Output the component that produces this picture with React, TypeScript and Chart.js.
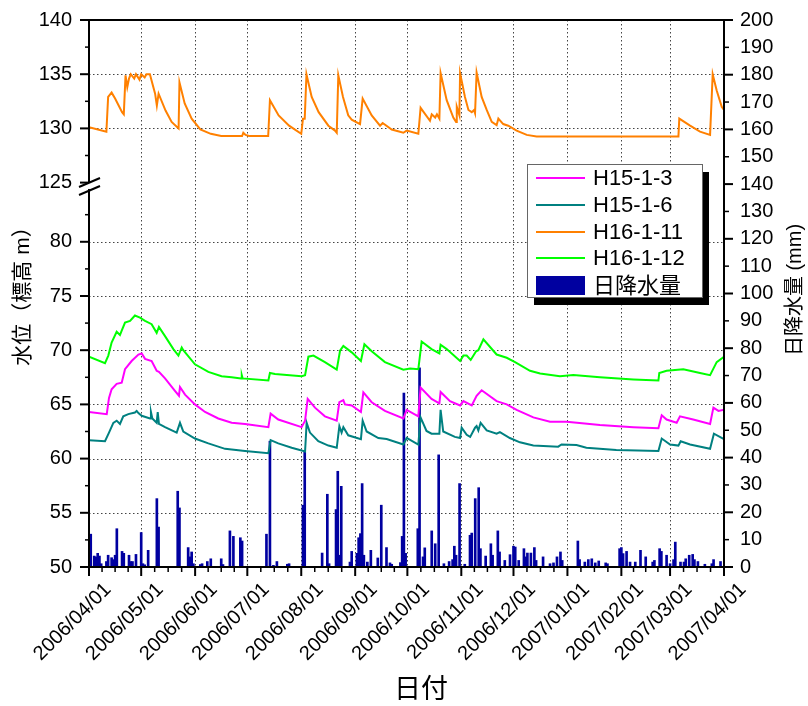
import { useEffect, useRef } from 'react';
import { Chart, registerables } from 'chart.js';

Chart.register(...registerables);

// ---------- data ----------
const MONTH_DAYS = [0, 30, 61, 91, 122, 153, 183, 214, 244, 275, 306, 334, 365];
const MONTH_LABELS = [
  '2006/04/01', '2006/05/01', '2006/06/01', '2006/07/01', '2006/08/01', '2006/09/01',
  '2006/10/01', '2006/11/01', '2006/12/01', '2007/01/01', '2007/02/01', '2007/03/01', '2007/04/01',
];
const Y_LOW_TICKS = [50, 55, 60, 65, 70, 75, 80];
const Y_HIGH_TICKS = [125, 130, 135, 140];
const RAIN_TICKS = [0, 10, 20, 30, 40, 50, 60, 70, 80, 90, 100, 110, 120, 130, 140, 150, 160, 170, 180, 190, 200];

const SERIES_NAMES = ['H15-1-3', 'H15-1-6', 'H16-1-11', 'H16-1-12', '日降水量'];

// [day since 2006/04/01, level (m)]
const H15_1_3: [number, number][] = [
  [0, 64.3], [10.2, 64.1], [11.5, 65.6], [13, 66.4], [15.9, 66.9], [18.8, 67.0], [20.7, 68.25], [24.5, 69.0],
  [28.4, 69.6], [30.3, 69.7], [32.2, 69.2], [36, 69.0], [38.9, 68.1], [40.2, 68.0], [43.7, 67.4], [49.4, 66.25],
  [51.7, 65.8], [52.3, 66.6], [55.2, 65.9], [60.9, 65.0], [66.7, 64.3], [74.3, 63.7], [82, 63.3], [89.7, 63.2],
  [103.1, 62.9], [104.4, 64.15], [108.8, 63.6], [122.2, 62.9], [124.2, 63.5], [125.7, 65.5], [129.9, 64.7],
  [135.6, 63.9], [142.4, 63.5], [143.9, 65.2], [146.2, 65.4], [147.1, 65.0], [151, 64.9], [156.3, 64.3],
  [157.7, 66.1], [162.5, 65.2], [170.1, 64.4], [180.7, 63.7], [182.6, 64.5], [189.3, 63.9], [190.6, 66.55],
  [196.9, 65.5], [201.4, 65.1], [202.1, 66.15], [207.5, 65.3], [213.3, 64.9], [215.2, 65.3], [220, 64.9],
  [222.8, 65.8], [225.7, 66.3], [234.3, 65.3], [240.1, 65.0], [245.8, 64.5], [255.4, 63.8], [265, 63.4],
  [274.6, 63.4], [293.7, 63.1], [312.9, 62.9], [327.3, 62.8], [329.2, 64.0], [332, 63.6], [337.8, 63.3],
  [339.7, 63.9], [347.3, 63.6], [357, 63.2], [358.9, 64.7], [361.8, 64.4], [365, 64.5],
];
const H15_1_6: [number, number][] = [
  [0, 61.7], [9.2, 61.6], [11.5, 62.4], [14, 63.3], [15.9, 63.5], [17.8, 63.2], [19.7, 63.9], [22.6, 64.1],
  [26.4, 64.25], [27.4, 64.4], [28.4, 64.2], [30.3, 63.95], [35.1, 63.7], [35.6, 64.3], [36.4, 63.7], [38.9, 63.3],
  [39.5, 64.3], [40.2, 63.2], [43.7, 62.9], [50.4, 62.4], [52.3, 63.3], [54.2, 62.5], [60.9, 61.85], [68.6, 61.4],
  [78.2, 60.9], [89.7, 60.7], [103.1, 60.5], [104.4, 61.7], [108.8, 61.4], [116.5, 61.0], [124.2, 60.65],
  [125.1, 63.3], [127, 62.4], [131.8, 61.6], [137.6, 61.2], [142.4, 61.0], [143.9, 63.0], [145.2, 62.4],
  [146.2, 62.9], [149, 62.15], [156.3, 61.8], [157.3, 63.5], [159.6, 62.5], [166.3, 61.9], [171.1, 61.8],
  [180.7, 61.3], [182.6, 61.9], [189.3, 61.3], [190.6, 63.8], [194, 62.55], [196.9, 62.3], [201.4, 62.3],
  [202.1, 64.5], [203.6, 62.5], [210.3, 62.0], [213.3, 61.9], [214.2, 62.85], [217.1, 62.2], [219.1, 62.0],
  [221.9, 62.85], [222.8, 63.0], [223.8, 62.6], [225.1, 63.3], [228.6, 62.6], [234.3, 62.3], [236.2, 62.45],
  [241.9, 61.9], [247.7, 61.5], [255.4, 61.2], [269.7, 61.1], [271.6, 61.3], [280.2, 61.26], [285.9, 61.0],
  [303.1, 60.8], [327.3, 60.7], [329.2, 61.85], [334, 61.3], [338.8, 61.2], [340.1, 61.6], [345.5, 61.3],
  [357, 60.9], [359.2, 62.3], [365, 61.8],
];
const H16_1_11: [number, number][] = [
  [0, 130.1], [10, 129.7], [11, 132.9], [13, 133.3], [15, 132.75], [19, 131.5], [20, 131.3], [21, 134.9],
  [22, 133.8], [23, 134.6], [24, 135], [26, 134.6], [27, 135], [29, 134.5], [30, 135], [32, 134.7], [33, 135],
  [35, 135], [38, 133.2], [39, 132.1], [40, 133.2], [44, 131.65], [47.5, 130.6], [51.5, 130.0], [52, 134.25],
  [55, 132.3], [59, 130.9], [64, 129.9], [70, 129.5], [76, 129.3], [88, 129.3], [88.7, 129.6], [90, 129.4],
  [92, 129.3], [103, 129.3], [104, 132.6], [109, 131.2], [115, 130.25], [122, 129.5], [123, 130.9], [124, 130.9],
  [125, 135], [128, 132.9], [132, 131.5], [137.6, 130.25], [141.4, 129.8], [142.4, 129.6], [143.3, 134.9],
  [146, 132.9], [149, 131.2], [151, 130.8], [155.8, 130.4], [157.3, 132.75], [162.5, 131.2], [167.3, 130.25],
  [168.8, 130.5], [174, 129.9], [180.7, 129.6], [182.6, 129.8], [189.3, 129.5], [190.6, 131.9], [196, 130.7],
  [197, 131.3], [199, 131.0], [200, 131.3], [201.4, 130.9], [202.1, 135.1], [205.6, 132.6], [209.4, 131.0],
  [211, 130.6], [211.4, 132.0], [212.9, 131.2], [213.3, 135.1], [216.1, 132.9], [218.1, 131.7], [220, 131.5],
  [221.3, 131.7], [221.9, 131.4], [222.8, 135.15], [225.7, 132.9], [228.6, 131.7], [231.5, 130.6], [234.3, 130.3],
  [235.3, 130.9], [238.1, 130.4], [241, 130.25], [245.8, 129.8], [251.6, 129.4], [257.3, 129.25], [338.8, 129.25],
  [339.3, 130.9], [345.5, 130.25], [351.2, 129.7], [357, 129.4], [358.5, 135], [360.8, 133.5], [363.7, 132.0],
  [365, 131.7],
];
const H16_1_12: [number, number][] = [
  [0, 69.4], [9.2, 68.8], [11.1, 69.5], [13, 70.7], [15.9, 71.7], [17.8, 71.4], [18.8, 71.8], [20.7, 72.55],
  [23.6, 72.7], [26.4, 73.2], [29.3, 73.0], [32.2, 72.7], [36, 72.4], [38.9, 71.6], [40.2, 72.15], [43.7, 71.3],
  [48.5, 70.1], [51.4, 69.5], [53.3, 70.25], [54.2, 70.0], [60.9, 68.7], [68.6, 68.0], [76.2, 67.6], [82, 67.5],
  [87.4, 67.4], [87.8, 67.7], [88.3, 67.4], [103.1, 67.2], [104, 67.9], [106.9, 67.8], [122.2, 67.6], [124.2, 67.7],
  [126.1, 69.4], [129, 69.5], [135.6, 68.9], [142.4, 68.2], [144.3, 69.95], [146.2, 70.4], [151, 69.8],
  [156.3, 69.0], [158.3, 70.55], [162.5, 69.9], [170.1, 68.9], [180.7, 68.2], [184.6, 68.3], [189.3, 68.25],
  [191.2, 70.8], [196.9, 70.1], [201.4, 69.7], [202.1, 70.5], [205.6, 70.1], [213.3, 69.0], [215.2, 69.5],
  [217.1, 69.5], [219.4, 69.1], [222.5, 69.9], [223.8, 70.0], [226.7, 71.0], [234.3, 69.6], [240.1, 69.3],
  [244.9, 68.9], [253.5, 68.1], [259.3, 67.85], [270.7, 67.6], [278.4, 67.7], [293.7, 67.5], [312.9, 67.3],
  [327.3, 67.2], [327.8, 67.9], [332, 68.1], [341.6, 68.25], [351.2, 67.9], [357, 67.7], [360.8, 68.9], [365, 69.4],
];
// [day since 2006/04/01, daily rainfall (mm)]
const RAIN: [number, number][] = [
  [1, 12], [3, 4], [4, 3.7], [5, 5], [6, 4], [7, 1.2], [10, 2], [11, 4.3], [13, 3.4], [14, 2.7], [15, 4.3],
  [16, 14], [19, 5.7], [20, 5], [23, 4.3], [24, 2], [25, 2], [27, 4.6], [30, 12.6], [31, 1.2], [32, 0.8], [34, 6.1],
  [39, 25], [40, 14.6], [51, 27.7], [52, 21.6], [57, 7.1], [58, 3.7], [59, 5.5], [60, 1.2], [64, 0.9], [65, 1.2],
  [68, 2], [70, 3], [76, 3], [77, 0.9], [81, 13.2], [83, 11.2], [87, 10.7], [88, 9.5], [102, 12], [104, 46],
  [106, 0.6], [108, 2], [114, 1], [115, 1.2], [123, 22.6], [124, 42], [134, 5.1], [137, 26.6], [138, 1.2],
  [142, 21], [143, 35], [144, 4.3], [145, 29.5], [150, 1.8], [151, 5.7], [154, 5], [155, 10.7], [156, 12.2],
  [157, 30.5], [158, 4.3], [160, 1.8], [162, 6.1], [166, 3.3], [168, 22.6], [171, 7.1], [173, 1.5], [174, 1],
  [179, 1.6], [180, 11.2], [181, 63.6], [182, 5], [189, 14], [190, 72.8], [192, 3.7], [193, 7], [197, 13.2],
  [199, 8.5], [201, 41], [204, 1.2], [207, 2], [209, 2.7], [210, 7.6], [211, 4.3], [213, 30.5], [216, 1],
  [219, 11.6], [220, 12.4], [222, 25], [224, 29], [225, 6.7], [228, 4], [231, 8.5], [232, 4.3], [235, 13.2],
  [236, 5.5], [239, 2.4], [242, 4.5], [244, 7.6], [245, 7.3], [247, 2.4], [250, 6.7], [251, 3.7], [252, 5.1],
  [254, 5.1], [256, 7.1], [257, 2.4], [261, 3.7], [265, 1.2], [267, 1.5], [269, 3.7], [271, 5.5], [272, 2.4],
  [281, 9.5], [282, 2.7], [285, 1.8], [287, 2.7], [289, 3], [291, 1.5], [293, 2.2], [297, 1.5], [298, 1.2],
  [305, 6.7], [306, 7.1], [307, 4.9], [309, 5.7], [311, 1.8], [314, 1.8], [317, 6.1], [320, 3.7], [324, 1.8],
  [325, 2.4], [328, 6.7], [329, 5.7], [332, 4.3], [334, 1.2], [336, 2.7], [337, 9.1], [340, 1.8], [342, 1.8],
  [343, 3], [345, 4.3], [347, 4.6], [348, 2.7], [350, 2], [354, 1], [358, 1.2], [359, 2.7], [363, 2],
];

// ---------- style ----------
const COLORS = ['#FF00FF', '#008080', '#FF8000', '#00FF00', '#0000A0'];
const FONT = '"Liberation Sans", Arial, "Noto Sans CJK JP", sans-serif';

const toXY = (arr: [number, number][]) => arr.map(([x, y]) => ({ x, y }));

function minorTicks(major: number[], parts: number): number[] {
  const out: number[] = [];
  for (let i = 0; i < major.length - 1; i++) {
    for (let k = 1; k < parts; k++) out.push(major[i] + ((major[i + 1] - major[i]) * k) / parts);
  }
  return out;
}

const fitV = (w: number) => (s: any) => {
  s.width = w;
  s.paddingTop = 0;
  s.paddingBottom = 0;
};

const decorPlugin = {
  id: 'decor',
  beforeDatasetsDraw(chart: any) {
    const { ctx, chartArea: a, scales } = chart;
    ctx.save();
    ctx.strokeStyle = '#444';
    ctx.lineWidth = 1;
    ctx.setLineDash([1.5, 2.5]);
    const hline = (y: number) => {
      const yy = Math.round(y) + 0.5;
      ctx.beginPath(); ctx.moveTo(a.left, yy); ctx.lineTo(a.right, yy); ctx.stroke();
    };
    Y_LOW_TICKS.slice(1).forEach((v) => hline(scales.y.getPixelForValue(v)));
    Y_HIGH_TICKS.slice(1, -1).forEach((v) => hline(scales.yTop.getPixelForValue(v)));
    MONTH_DAYS.slice(1, -1).forEach((d) => {
      const x = Math.round(scales.x.getPixelForValue(d)) + 0.5;
      ctx.beginPath(); ctx.moveTo(x, a.top); ctx.lineTo(x, a.bottom); ctx.stroke();
    });
    ctx.restore();
  },
  afterDraw(chart: any) {
    const { ctx, chartArea: a, scales } = chart;
    const L = a.left, R = a.right, T = a.top, B = a.bottom;
    ctx.save();
    ctx.strokeStyle = '#000';
    ctx.lineWidth = 2;
    ctx.setLineDash([]);
    const line = (x1: number, y1: number, x2: number, y2: number) => {
      ctx.beginPath(); ctx.moveTo(x1, y1); ctx.lineTo(x2, y2); ctx.stroke();
    };
    // frame
    line(L, T, R, T);
    line(L - 1, B, R + 1, B);
    line(L, T - 1, L, B + 1);
    line(R, T - 1, R, B + 1);
    // left ticks
    const lowMinor = minorTicks(Y_LOW_TICKS, 2).concat([82.5]);
    const highMinor = minorTicks(Y_HIGH_TICKS, 2);
    ctx.lineWidth = 2;
    Y_LOW_TICKS.forEach((v) => { const y = scales.y.getPixelForValue(v); line(L - 9, y, L, y); });
    Y_HIGH_TICKS.forEach((v) => { const y = scales.yTop.getPixelForValue(v); line(L - 9, y, L, y); });
    ctx.lineWidth = 1.5;
    lowMinor.forEach((v) => { const y = scales.y.getPixelForValue(v); line(L - 4, y, L, y); });
    highMinor.forEach((v) => { const y = scales.yTop.getPixelForValue(v); line(L - 4, y, L, y); });
    // right ticks
    RAIN_TICKS.forEach((v, i) => {
      const y = scales.y2.getPixelForValue(v);
      ctx.lineWidth = i % 2 === 0 ? 2 : 1.5;
      line(R, y, R + (i % 2 === 0 ? 9 : 5), y);
    });
    // bottom ticks
    ctx.lineWidth = 2;
    MONTH_DAYS.forEach((d) => { const x = scales.x.getPixelForValue(d); line(x, B, x, B + 9); });
    ctx.lineWidth = 1.5;
    minorTicks(MONTH_DAYS, 4).forEach((d) => { const x = scales.x.getPixelForValue(d); line(x, B, x, B + 5); });
    // axis break
    const yb = scales.y.top;
    ctx.fillStyle = '#fff';
    ctx.fillRect(L - 2, yb - 3, 4, 6);
    ctx.lineWidth = 2;
    line(L - 10, yb + 1, L + 11, yb - 8);
    line(L - 10, yb + 9, L + 11, yb);
    // titles
    ctx.fillStyle = '#000';
    ctx.textAlign = 'center';
    ctx.textBaseline = 'middle';
    ctx.font = `21px ${FONT}`;
    ctx.save(); ctx.translate(23, 291); ctx.rotate(-Math.PI / 2); ctx.fillText('水位（標高 m）', 0, 0); ctx.restore();
    ctx.font = `20px ${FONT}`;
    ctx.save(); ctx.translate(795, 290); ctx.rotate(-Math.PI / 2); ctx.fillText('日降水量 (mm)', 0, 0); ctx.restore();
    ctx.font = `27px ${FONT}`;
    ctx.fillText('日付', 421, 691);
    // legend
    const lx = 527, ly = 164, lw = 175, lh = 133;
    ctx.fillStyle = '#000';
    ctx.fillRect(lx + 7, ly + 8, lw, lh);
    ctx.fillStyle = '#fff';
    ctx.fillRect(lx, ly, lw, lh);
    ctx.strokeStyle = '#666';
    ctx.lineWidth = 1;
    ctx.strokeRect(lx + 0.5, ly + 0.5, lw, lh);
    ctx.font = `22px ${FONT}`;
    ctx.textAlign = 'left';
    const rows = [178, 205, 232, 258, 286];
    SERIES_NAMES.forEach((name, i) => {
      const y = rows[i];
      if (i < 4) {
        ctx.strokeStyle = COLORS[i];
        ctx.lineWidth = 2;
        line(536, y, 585, y);
      } else {
        ctx.fillStyle = COLORS[i];
        ctx.fillRect(536, y - 10, 49, 19);
      }
      ctx.fillStyle = '#000';
      ctx.fillText(name, 593, y + 1);
    });
    ctx.restore();
  },
};

export default function App() {
  const ref = useRef<HTMLCanvasElement | null>(null);

  useEffect(() => {
    document.body.style.margin = '0';
    const canvas = ref.current;
    if (!canvas) return;
    const lineDs = (i: number, data: [number, number][], axis: string) => ({
      type: 'line' as const,
      label: SERIES_NAMES[i],
      data: toXY(data),
      yAxisID: axis,
      borderColor: COLORS[i],
      backgroundColor: COLORS[i],
      borderWidth: 2,
      pointRadius: 0,
      tension: 0,
      fill: false,
      order: 0,
    });
    const chart = new Chart(canvas, {
      type: 'line',
      data: {
        datasets: [
          lineDs(0, H15_1_3, 'y'),
          lineDs(1, H15_1_6, 'y'),
          lineDs(2, H16_1_11, 'yTop'),
          lineDs(3, H16_1_12, 'y'),
          {
            type: 'bar' as const,
            label: SERIES_NAMES[4],
            data: toXY(RAIN),
            yAxisID: 'y2',
            backgroundColor: COLORS[4],
            borderWidth: 0,
            barThickness: 2,
            order: 1,
          } as any,
        ],
      },
      options: {
        responsive: false,
        animation: false,
        layout: { padding: { top: 20, left: 0, right: 0, bottom: 0 } },
        plugins: { legend: { display: false }, tooltip: { enabled: false }, title: { display: false } },
        scales: {
          x: {
            type: 'linear',
            offset: false,
            min: 0,
            max: 365,
            afterBuildTicks: (s: any) => { s.ticks = MONTH_DAYS.map((v) => ({ value: v })); },
            afterFit: (s: any) => { s.height = 139; },
            ticks: {
              autoSkip: false,
              minRotation: 45,
              maxRotation: 45,
              padding: 11,
              labelOffset: 19,
              color: '#000',
              font: { family: FONT, size: 20 },
              callback: (v: any) => {
                const i = MONTH_DAYS.indexOf(Number(v));
                return i >= 0 ? MONTH_LABELS[i] : '';
              },
            },
            grid: { display: false, drawTicks: false, offset: false },
            border: { display: false },
          },
          y: {
            type: 'linear',
            position: 'left',
            stack: 'left',
            stackWeight: 35.15,
            min: 50,
            max: 85.15,
            bounds: 'data',
            afterBuildTicks: (s: any) => { s.ticks = Y_LOW_TICKS.map((v) => ({ value: v })); },
            afterFit: fitV(89),
            ticks: { autoSkip: false, padding: 17, color: '#000', font: { family: FONT, size: 20 } },
            grid: { display: false, drawTicks: false },
            border: { display: false },
          },
          yTop: {
            type: 'linear',
            position: 'left',
            stack: 'left',
            stackWeight: 15.31,
            min: 124.69,
            max: 140,
            bounds: 'data',
            afterBuildTicks: (s: any) => { s.ticks = Y_HIGH_TICKS.map((v) => ({ value: v })); },
            afterFit: fitV(89),
            ticks: { autoSkip: false, padding: 17, color: '#000', font: { family: FONT, size: 20 } },
            grid: { display: false, drawTicks: false },
            border: { display: false },
          },
          y2: {
            type: 'linear',
            position: 'right',
            min: 0,
            max: 200,
            bounds: 'data',
            afterBuildTicks: (s: any) => { s.ticks = RAIN_TICKS.map((v) => ({ value: v })); },
            afterFit: fitV(84),
            ticks: { autoSkip: false, padding: 16, color: '#000', font: { family: FONT, size: 20 } },
            grid: { display: false, drawTicks: false },
            border: { display: false },
          },
        },
      } as any,
      plugins: [decorPlugin],
    });
    return () => chart.destroy();
  }, []);

  return (
    <div style={{ width: 808, height: 706 }}>
      <canvas ref={ref} width={808} height={706} style={{ display: 'block' }} />
    </div>
  );
}
